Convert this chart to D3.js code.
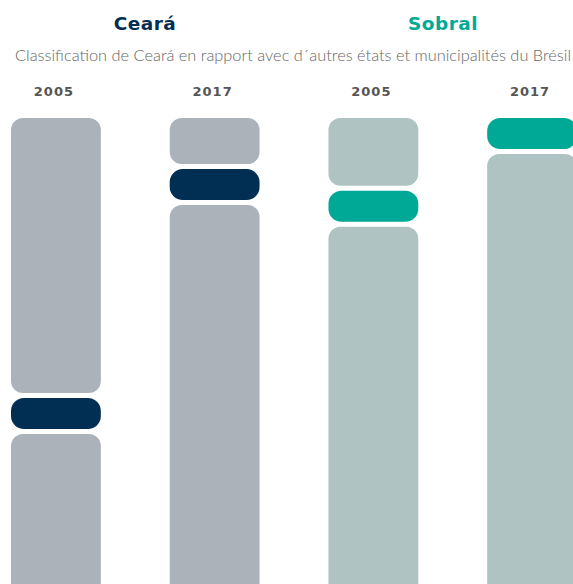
<!DOCTYPE html>
<html>
<head>
<meta charset="utf-8">
<script src="https://cdn.jsdelivr.net/npm/d3@7"></script>
<style>
  body { margin: 0; background: #fff; }
  svg { display: block; overflow: hidden; }
</style>
</head>
<body>
<div id="chart"></div>
<script>
// colonnes : [groupe, année]
const groups = ["Ceará", "Sobral"];
const years = ["2005", "2017", "2005", "2017"];
const columnGroup = ["Ceará", "Ceará", "Sobral", "Sobral"];
// position dans le classement (0 = premier, 100 = dernier)
const positions = [40, 7.3, 10.4, 0];
const subtitle = "Classification de Ceará en rapport avec d´autres états et municipalités du Brésil";

const width = 573, height = 584;
const colors = {
    "Ceará": { band: "#012e53", rest: "#abb2b9" },
    "Sobral": { band: "#00a996", rest: "#afc4c2" }
};

const svg = d3.select("#chart").append("svg")
    .attr("width", width)
    .attr("height", height);

// titres
const titleX = { "Ceará": 145, "Sobral": 443 };
svg.selectAll("text.title")
    .data(groups)
    .enter().append("text")
    .attr("class", "title")
    .attr("x", d => titleX[d])
    .attr("y", 30)
    .attr("text-anchor", "middle")
    .attr("font-family", "DejaVu Sans, sans-serif")
    .attr("font-weight", "bold")
    .attr("font-size", "18.5px")
    .attr("letter-spacing", "0.5px")
    .attr("fill", d => colors[d].band)
    .text(d => d);

svg.append("text")
    .attr("x", 15)
    .attr("y", 61)
    .attr("font-family", "Lato, sans-serif")
    .attr("font-weight", 300)
    .attr("font-size", "15.5px")
    .attr("fill", "#666")
    .attr("textLength", 556)
    .attr("lengthAdjust", "spacingAndGlyphs")
    .text(subtitle);

// échelles
const x = d3.scaleBand()
    .domain(d3.range(years.length))
    .range([11, 577])
    .paddingInner(0.434)
    .paddingOuter(0);

const y = d3.scaleLinear()
    .domain([0, 100])
    .range([118, 818]);

const bandH = 31, gap = 5;

// années
svg.selectAll("text.year")
    .data(years)
    .enter().append("text")
    .attr("class", "year")
    .attr("x", (d, i) => x(i) + x.bandwidth() / 2 - 2)
    .attr("y", 96)
    .attr("text-anchor", "middle")
    .attr("font-family", "DejaVu Sans, sans-serif")
    .attr("font-weight", "bold")
    .attr("font-size", "13px")
    .attr("letter-spacing", "1px")
    .attr("fill", "#555")
    .text(d => d);

// segments
const cols = svg.selectAll("g.col")
    .data(positions)
    .enter().append("g")
    .attr("class", "col")
    .attr("transform", (d, i) => `translate(${x(i)},0)`);

cols.each(function (p, i) {
    const g = d3.select(this);
    const c = colors[columnGroup[i]];
    const top = y(p);
    if (p > 0) {
        g.append("rect")
            .attr("y", y(0))
            .attr("width", x.bandwidth())
            .attr("height", top - gap - y(0))
            .attr("rx", 12)
            .attr("fill", c.rest);
    }
    g.append("rect")
        .attr("y", top)
        .attr("width", x.bandwidth())
        .attr("height", bandH)
        .attr("rx", 13)
        .attr("fill", c.band);
    g.append("rect")
        .attr("y", top + bandH + gap)
        .attr("width", x.bandwidth())
        .attr("height", y(100) - (top + bandH + gap))
        .attr("rx", 12)
        .attr("fill", c.rest);
});
</script>
</body>
</html>
